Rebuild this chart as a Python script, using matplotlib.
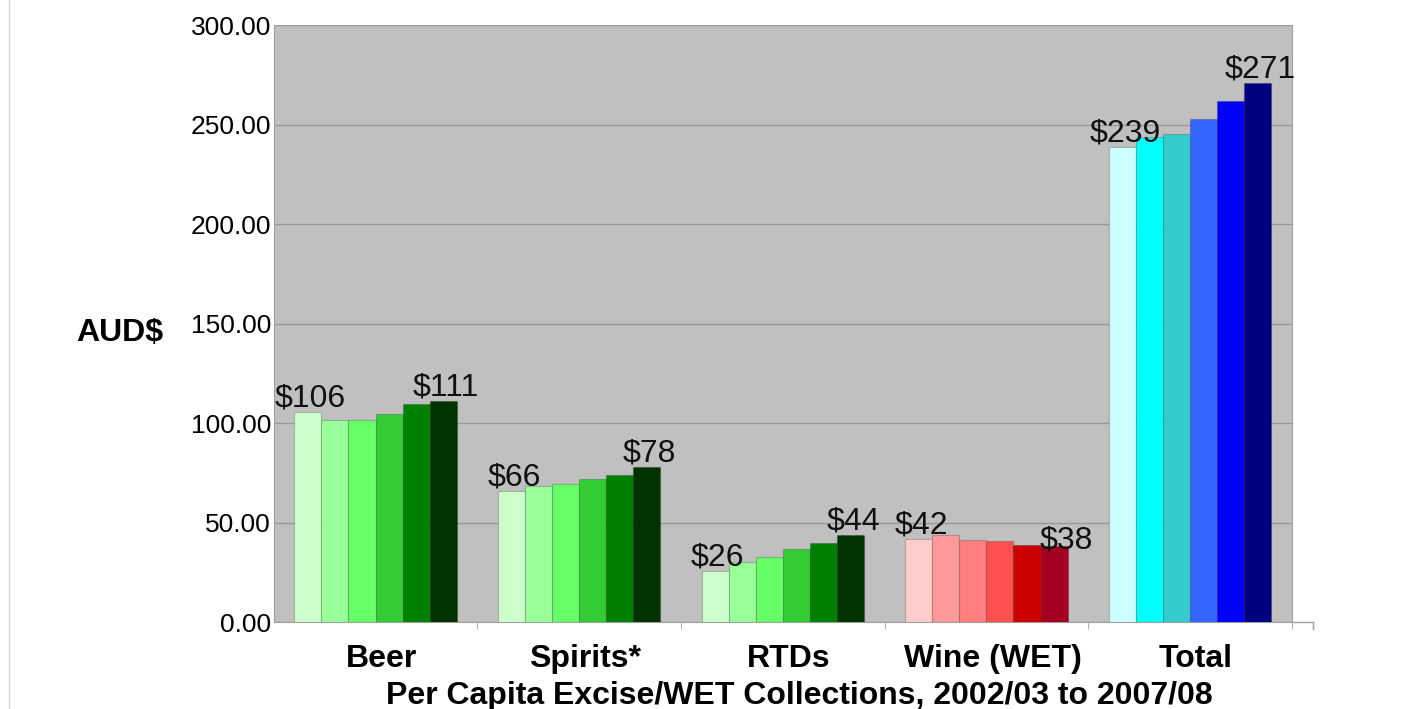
import matplotlib.pyplot as plt
import numpy as np
from matplotlib.lines import Line2D

plt.rcParams["font.family"] = ["Liberation Sans", "DejaVu Sans"]

categories = ["Beer", "Spirits*", "RTDs", "Wine (WET)", "Total"]
years = ["2002/03", "2003/04", "2004/05", "2005/06", "2006/07", "2007/08"]

# per capita collections, one list per year (Beer, Spirits, RTDs, Wine, Total)
y2002 = [105.7, 65.9, 25.8, 41.5, 238.9]
y2003 = [101.6, 68.3, 30.0, 43.5, 243.6]
y2004 = [101.4, 69.3, 32.8, 41.0, 245.3]
y2005 = [104.6, 71.8, 36.5, 40.5, 252.9]
y2006 = [109.7, 74.0, 39.8, 38.6, 261.8]
y2007 = [110.9, 78.0, 43.6, 38.2, 270.9]
series = [y2002, y2003, y2004, y2005, y2006, y2007]

greens = ["#CCFFCC", "#99FF99", "#66FF66", "#33CC33", "#008000", "#003300"]
reds = ["#FFCCCC", "#FF9999", "#FF7F7F", "#FF5050", "#CC0000", "#A50021"]
blues = ["#CCFFFF", "#00FFFF", "#33CCCC", "#3366FF", "#0000FF", "#000080"]
palette = [greens, greens, greens, reds, blues]

fig = plt.figure(figsize=(14.11, 7.09), dpi=100)
ax = fig.add_axes([0.194, 0.1227, 0.7215, 0.842])
ax.set_facecolor("#C0C0C0")

n = len(series)
width = 0.133
x = np.arange(len(categories))
for j, vals in enumerate(series):
    offs = x + (j - (n - 1) / 2) * width
    for i, v in enumerate(vals):
        c = palette[i][j]
        ax.bar(offs[i], v, width, color=c, edgecolor="#00000030", linewidth=0.8, zorder=3)
        if j == 0 or j == n - 1:
            # the last wine label sits lower and to the right
            dx, dy = (9, -7) if (i == 3 and j == n - 1) else (2, -1)
            ax.annotate(f"${v:.0f}", (offs[i], v), xytext=(dx, dy), textcoords="offset points",
                        ha="center", va="bottom", fontsize=23, color="#111111", zorder=4)

ax.set_xlim(-0.5, 4.5)
ax.set_ylim(0, 300)
ax.set_yticks(np.arange(0, 301, 50))
ax.set_yticklabels([f"{t:.2f}" for t in np.arange(0, 301, 50)], fontsize=19)
ax.yaxis.grid(True, color="#999999", linewidth=1, zorder=0)
ax.set_axisbelow(True)

# category names sit slightly right of the group centres
ax.set_xticks(x + 0.03)
ax.set_xticklabels(categories, fontsize=23, fontweight="bold")
ax.set_xticks(np.arange(0.5, 4.6, 1), minor=True)
ax.tick_params(axis="x", which="major", length=0, pad=16)
ax.tick_params(axis="x", which="minor", length=5, color="#a0a0a0")
ax.tick_params(axis="y", length=0, pad=2)

for s in ax.spines.values():
    s.set_color("#a0a0a0")
ax.spines["top"].set_visible(False)

# x axis line runs a little past the plot area
ax.plot([1.0, 1.021], [0, 0], transform=ax.transAxes, color="#a0a0a0", linewidth=1, clip_on=False)
ax.plot([1.021, 1.021], [0, -0.012], transform=ax.transAxes, color="#a0a0a0", linewidth=1, clip_on=False)

ax.set_xlabel("Per Capita Excise/WET Collections, 2002/03 to 2007/08",
              fontsize=23, fontweight="bold")
ax.xaxis.set_label_coords(0.516, -0.098)
fig.text(0.085, 0.53, "AUD$", fontsize=23, fontweight="bold", ha="center", va="center")

# thin frame line at the left edge
fig.add_artist(Line2D([9 / 1411, 9 / 1411], [0, 1], color="#d8d8e0", linewidth=1))

fig.savefig("out.png", dpi=100)
